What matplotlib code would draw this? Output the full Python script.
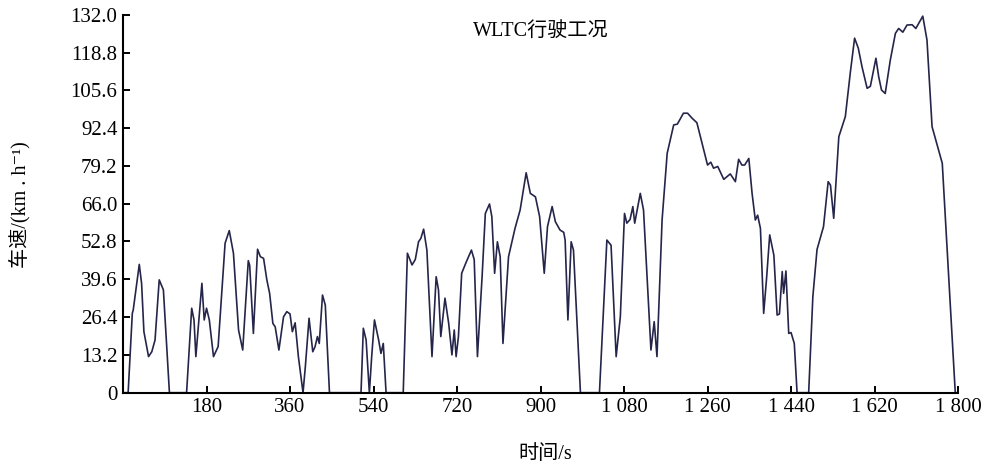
import matplotlib
matplotlib.use('Agg')
import matplotlib.pyplot as plt
import numpy as np

plt.rcParams['font.family'] = ['Liberation Serif', 'Noto Sans CJK SC', 'DejaVu Serif']

# WLTC speed trace (time in s, speed in km/h)
time_s = [0, 11, 20, 22, 35, 40, 45, 55, 62, 69, 78, 87, 100, 137, 148, 153, 157, 170, 175, 180,
          186, 195, 205, 220, 229, 238, 249, 258, 270, 273, 281, 290, 296, 303, 310, 316, 323, 328,
          336, 346, 353, 360, 365, 371, 378, 388, 393, 401, 409, 414, 419, 423, 430, 436, 445, 513,
          518, 524, 531, 536, 542, 551, 556, 561, 567, 604, 613, 623, 630, 637, 642, 648, 655, 666,
          675, 680, 685, 694, 702, 709, 714, 718, 723, 730, 740, 751, 757, 764, 774, 781, 790, 795,
          801, 807, 813, 819, 831, 845, 856, 869, 878, 889, 898, 908, 915, 925, 932, 942, 950, 953,
          959, 966, 971, 986, 1027, 1043, 1052, 1063, 1072, 1081, 1086, 1093, 1099, 1103, 1108, 1115,
          1122, 1138, 1145, 1151, 1162, 1173, 1187, 1195, 1208, 1217, 1227, 1237, 1260, 1267, 1273,
          1282, 1295, 1309, 1320, 1327, 1334, 1340, 1349, 1356, 1363, 1368, 1374, 1381, 1387, 1394,
          1403, 1410, 1415, 1421, 1424, 1429, 1435, 1440, 1447, 1453, 1478, 1487, 1496, 1510, 1520,
          1525, 1532, 1543, 1557, 1568, 1577, 1585, 1593, 1604, 1611, 1623, 1629, 1635, 1643, 1654,
          1665, 1672, 1681, 1690, 1701, 1709, 1724, 1733, 1744, 1766, 1794, 1800]
speed = [0, 0, 27.7, 28.9, 44.8, 38.2, 21.3, 12.6, 14.3, 18.4, 39.4, 35.9, 0, 0, 29.5, 25.4, 12.6,
         38.2, 25.4, 29.5, 25.4, 12.6, 16.1, 52.2, 56.6, 48.7, 21.9, 14.9, 46.1, 44.5, 20.7, 50.1,
         47.5, 46.9, 39.4, 34.7, 24.2, 23.0, 14.9, 26.5, 28.3, 27.5, 21.3, 24.4, 12.6, 0, 9.1, 26.0,
         14.3, 16.1, 19.6, 17.2, 34.1, 30.6, 0, 0, 22.5, 18.4, 0, 12.6, 25.4, 18.4, 13.7, 17.2, 0, 0,
         48.7, 44.6, 46.5, 52.7, 53.9, 57.1, 49.8, 12.6, 40.5, 35.9, 19.6, 33.0, 24.2, 13.2, 21.9,
         12.6, 19.6, 41.7, 45.7, 49.8, 46.5, 12.6, 40.5, 62.6, 65.9, 61.5, 41.7, 52.7, 47.5, 17.2,
         47.5, 57.4, 63.8, 76.8, 69.6, 68.4, 61.5, 41.7, 58.0, 65.0, 59.7, 56.8, 56.0, 53.3, 25.4,
         52.7, 49.8, 0, 0, 53.3, 51.5, 12.6, 26.5, 62.6, 59.2, 60.5, 65.0, 59.2, 63.5, 69.6, 63.8,
         14.9, 24.8, 12.6, 60.3, 83.6, 93.5, 93.8, 97.6, 97.6, 95.8, 94.3, 79.5, 80.5, 78.4, 79.0,
         74.5, 76.4, 73.7, 81.5, 79.5, 79.5, 81.8, 69.6, 60.3, 62.0, 57.4, 27.7, 39.4, 55.1, 48.0,
         27.1, 27.5, 42.3, 34.7, 42.5, 20.7, 21.0, 17.2, 0, 0, 33.5, 50.0, 58.0, 73.7, 72.5, 60.9,
         89.4, 96.4, 112.1, 123.8, 120.3, 113.8, 106.3, 107.0, 116.8, 110.3, 105.7, 104.5, 116.2,
         125.5, 127.2, 125.9, 128.4, 128.5, 127.2, 131.5, 123.2, 92.9, 80.1, 0, 0]

x_ticks = [180, 360, 540, 720, 900, 1080, 1260, 1440, 1620, 1800]
x_labels = ['180', '360', '540', '720', '900', '1 080', '1 260', '1 440', '1 620', '1 800']
y_ticks = [0, 13.2, 26.4, 39.6, 52.8, 66.0, 79.2, 92.4, 105.6, 118.8, 132.0]
y_labels = ['0', '13.2', '26.4', '39.6', '52.8', '66.0', '79.2', '92.4', '105.6', '118.8', '132.0']

fig = plt.figure(figsize=(9.93, 4.70), dpi=100)
ax = fig.add_axes([0.1239, 0.1645, 0.8409, 0.8042])

ax.plot(time_s, speed, color='#25254a', linewidth=1.2)

ax.set_xlim(0, 1800)
ax.set_ylim(0, 132)
ax.set_xticks(x_ticks)
ax.set_xticklabels(x_labels)
ax.set_yticks(y_ticks)
ax.set_yticklabels(y_labels)
ax.tick_params(direction='in', length=5, width=1.4, labelsize=15, pad=4)

for side in ['top', 'right']:
    ax.spines[side].set_visible(False)
for side in ['left', 'bottom']:
    ax.spines[side].set_linewidth(1.5)

ax.text(0.5, 0.955, 'WLTC行驶工况', transform=ax.transAxes, ha='center', va='center', fontsize=14.5)

fig.text(0.5488, 0.032, '时间/s', ha='center', va='center', fontsize=14.5)
fig.text(0.020, 0.565, '车速/(km . h\u207b\u00b9)', rotation=90, ha='center', va='center', fontsize=14.5)

fig.savefig('out.png', dpi=100)
